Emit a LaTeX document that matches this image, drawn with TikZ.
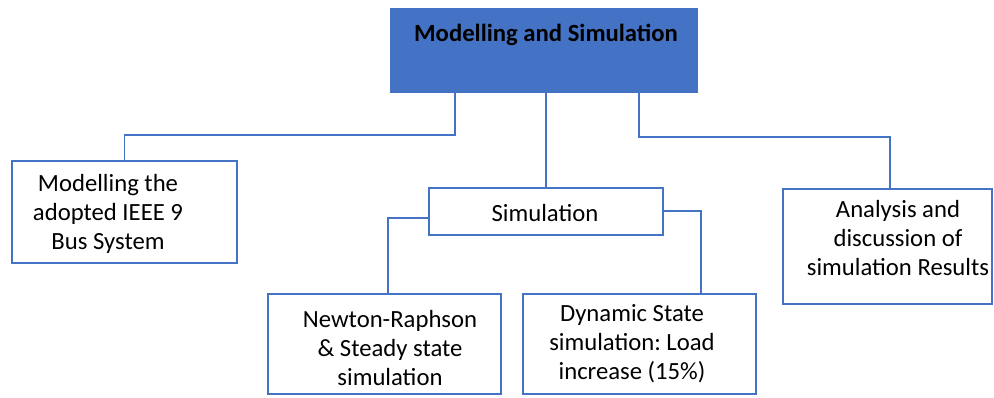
\documentclass[tikz,border=0pt]{standalone}
\usepackage{fontspec}
\setmainfont{Carlito}
\usetikzlibrary{calc}
\definecolor{blu}{HTML}{4472C4}
\frenchspacing
\begin{document}
\begin{tikzpicture}[x=1pt,y=-1pt,
 box/.style={draw=blu,line width=2.4pt,fill=white,inner sep=0pt,outer sep=0pt},
 lnk/.style={draw=blu,line width=1.5pt},
 txt/.style={align=center,font=\fontsize{24.7}{29}\selectfont,inner sep=0pt,text=black}]
\useasboundingbox (0,0) rectangle (994,397);
\fill[white] (0,0) rectangle (994,397);
% boxes (shapes only)
\node[fill=blu,minimum width=308pt,minimum height=85pt,inner sep=0pt,outer sep=0pt] (top) at (544,50.5) {};
\node[box,minimum width=225pt,minimum height=102pt] (left) at (124.5,212) {};
\node[box,minimum width=234pt,minimum height=47pt] (sim) at (546,211.5) {};
\node[box,minimum width=233pt,minimum height=100pt] (nr) at (384.5,344) {};
\node[box,minimum width=233pt,minimum height=100pt] (dyn) at (639.5,344) {};
\node[box,minimum width=209pt,minimum height=115pt] (ana) at (887.5,246.5) {};
% connectors
\draw[lnk] ($(top.south west)+(65,0)$) -- ++(0,42) -| (left.north);
\draw[lnk] (sim.north |- top.south) -- (sim.north);
\draw[lnk] ($(top.south west)+(249,0)$) -- ++(0,44) -| ($(ana.north)+(2.5,0)$);
\draw[lnk] ($(sim.west)+(0,6.5)$) -| ($(nr.north)+(3.5,0)$);
\draw[lnk] ($(sim.east)+(0,-0.5)$) -| ($(dyn.north)+(61.5,0)$);
% redraw box borders over connector ends
\foreach \n in {left,sim,nr,dyn,ana}{\draw[blu,line width=2.4pt] (\n.north west) rectangle (\n.south east);}
% texts
\node[txt,font=\fontsize{24.7}{29}\selectfont\bfseries] (ttop) at (546,35) {Modelling and Simulation};
\node[txt] (tleft) at (108,214) {Modelling the\\adopted IEEE 9\\Bus System};
\node[txt] (tsim) at (545,213) {Simulation};
\node[txt] (tnr) at (390,348) {Newton-Raphson\\\&\ Steady state\\simulation};
\node[txt] (tdyn) at (632,344) {Dynamic State\\simulation: Load\\increase (15\%)};
\node[txt] (tana) at (898,238) {Analysis and\\discussion of\\simulation Results};
\end{tikzpicture}
\end{document}
